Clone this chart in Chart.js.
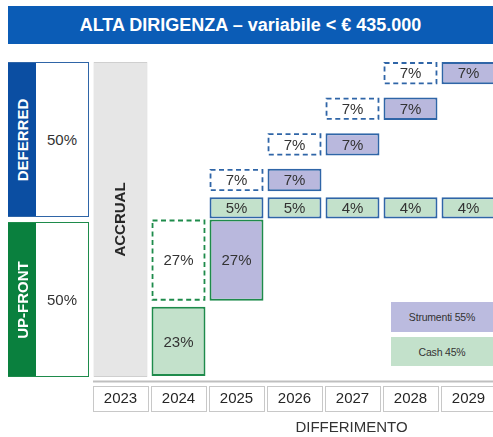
<!DOCTYPE html>
<html><head><meta charset="utf-8">
<script src="https://cdn.jsdelivr.net/npm/chart.js@4.4.1/dist/chart.umd.min.js"></script>
<style>
html,body{margin:0;padding:0;width:493px;height:437px;overflow:hidden;background:#fff;font-family:"Liberation Sans",Arial,sans-serif;}
#wrap{position:relative;width:493px;height:437px;overflow:hidden;}
#cv{position:absolute;left:0;top:0;}
.abs{position:absolute;box-sizing:border-box;}
#title{left:8px;top:6px;width:485px;height:38px;background:#0B5CB6;color:#fff;font-weight:bold;font-size:18px;display:flex;align-items:center;justify-content:center;}
.side{left:8px;width:81px;height:155px;border:1.5px solid;background:#fff;}
.strip{position:absolute;left:-1px;top:0;bottom:0;width:28px;}
.vtext{position:absolute;left:50%;top:50%;transform:translate(-50%,-50%) rotate(-90deg);white-space:nowrap;color:#fff;font-weight:bold;font-size:15px;}
.pct{position:absolute;left:27px;right:0;top:0;bottom:0;display:flex;align-items:center;justify-content:center;font-size:15px;color:#333;}
.leg{left:391px;width:102px;display:flex;align-items:center;justify-content:center;font-size:10.5px;letter-spacing:-0.2px;color:#333;}
#diff{left:210px;width:283px;top:418px;text-align:center;font-size:15px;color:#333;}
</style></head>
<body>
<div id="wrap">
<canvas id="cv"></canvas>
<div id="title" class="abs"></div>
<div id="deferredBox" class="abs side" style="top:62px;border-color:#2F65A7;">
  <div class="strip" style="background:#0B4EA2;"><div class="vtext" id="defTxt"></div></div>
  <div class="pct" id="defPct"></div>
</div>
<div id="upfrontBox" class="abs side" style="top:222px;border-color:#1E8B4B;">
  <div class="strip" style="background:#0A803E;"><div class="vtext" id="upTxt"></div></div>
  <div class="pct" id="upPct"></div>
</div>
<div id="legInstr" class="abs leg" style="top:302px;height:30px;background:#BBBBDF;"></div>
<div id="legCash" class="abs leg" style="top:337px;height:29px;background:#C3E1CB;"></div>
<div id="diff" class="abs"></div>
</div>
<script>
// ---- data ----
const titleText = 'ALTA DIRIGENZA \u2013 variabile < \u20ac 435.000';
const years = ['2023','2024','2025','2026','2027','2028','2029'];
const splitNames = ['DEFERRED','UP-FRONT'];
const splitPct = [50, 50];                 // deferred, up-front
const instrLabel = 'Strumenti', instrShare = 55;
const cashLabel = 'Cash', cashShare = 45;
const accrualLabel = 'ACCRUAL';
const axisTitle = 'DIFFERIMENTO';
const accrual = [100, null, null, null, null, null, null];
const upfrontCash = [null, 23, null, null, null, null, null];
const upfrontInstrAccrued = [null, 27, null, null, null, null, null];
const upfrontInstrPaid = [null, null, 27, null, null, null, null];
const deferredCash = [null, null, 5, 5, 4, 4, 4];
const deferredInstrAccrued = [null, null, 7, 7, 7, 7, null];
const deferredInstrPaid = [null, null, null, 7, 7, 7, 7];

// ---- text ----
document.getElementById('title').textContent = titleText;
document.getElementById('defTxt').textContent = splitNames[0];
document.getElementById('upTxt').textContent = splitNames[1];
document.getElementById('defPct').textContent = splitPct[0] + '%';
document.getElementById('upPct').textContent = splitPct[1] + '%';
document.getElementById('legInstr').textContent = instrLabel + ' ' + instrShare + '%';
document.getElementById('legCash').textContent = cashLabel + ' ' + cashShare + '%';
document.getElementById('diff').textContent = axisTitle;

// ---- layout of value ranges (y scale: 0..100 = up-front + deferred) ----
const upTop = splitPct[1];
const upCashVal = upfrontCash.find(v => v != null);
const mapUpCash = upfrontCash.map(v => v == null ? null : [0.3, v - 0.7]);
const mapUpInstr = arr => arr.map(v => v == null ? null : [upCashVal + 1.2, upCashVal + v]);
const mapDefCash = deferredCash.map(v => v == null ? null : [upTop + 0.3, upTop + 7.1]);
const rowRange = (k, v) => { const b = upTop + 9.0 + k * 11.3; return [b, b + v + 0.1]; };
const mapDefAcc = deferredInstrAccrued.map((v, i) => v == null ? null : rowRange(i - 2, v));
const mapDefPaid = deferredInstrPaid.map((v, i) => v == null ? null : rowRange(i - 3, v));
const mapAccrual = accrual.map(v => v == null ? null : [0, v]);

const BLUE = '#2F65A7', GREEN = '#1E8B4B', PURPLE = '#B9B8DD', LGREEN = '#C3E1CB';

function ds(data, pct, bg, border, extra) {
  return Object.assign({ data, pct, backgroundColor: bg, borderColor: border, borderWidth: 2,
    borderSkipped: false, grouped: false, barPercentage: 0.93, categoryPercentage: 1 }, extra || {});
}
const datasets = [
  ds(mapAccrual, null, '#E6E6E6', '#CFCFCF', { borderWidth: 1, vlabel: accrualLabel }),
  ds(mapUpCash, upfrontCash, LGREEN, GREEN),
  ds(mapUpInstr(upfrontInstrAccrued), upfrontInstrAccrued, 'rgba(255,255,255,0)', 'rgba(0,0,0,0)', { borderWidth: 0, dashed: GREEN }),
  ds(mapUpInstr(upfrontInstrPaid), upfrontInstrPaid, PURPLE, GREEN),
  ds(mapDefCash, deferredCash, LGREEN, BLUE),
  ds(mapDefAcc, deferredInstrAccrued, 'rgba(255,255,255,0)', 'rgba(0,0,0,0)', { borderWidth: 0, dashed: BLUE }),
  ds(mapDefPaid, deferredInstrPaid, PURPLE, BLUE)
];

const overlay = {
  id: 'overlay',
  beforeDraw(chart) {
    const ctx = chart.ctx, xs = chart.scales.x;
    const x0 = xs.getPixelForValue(0) - 27.5;
    ctx.save();
    ctx.strokeStyle = '#BFBFBF'; ctx.lineWidth = 2;
    ctx.beginPath(); ctx.moveTo(x0, 381.5); ctx.lineTo(chart.width, 381.5); ctx.stroke();
    ctx.lineWidth = 1; ctx.strokeStyle = '#C8C8C8';
    years.forEach((y, i) => {
      const cx = xs.getPixelForValue(i);
      ctx.strokeRect(Math.round(cx - 27.5) + 0.5, 386.5, 55, 25);
    });
    ctx.restore();
  },
  afterDatasetsDraw(chart) {
    const ctx = chart.ctx;
    ctx.save();
    chart.data.datasets.forEach((d, di) => {
      const meta = chart.getDatasetMeta(di);
      meta.data.forEach((el, i) => {
        if (d.data[i] == null) return;
        const p = el.getProps(['x', 'y', 'base', 'width'], true);
        const top = Math.min(p.y, p.base), bot = Math.max(p.y, p.base);
        const left = p.x - p.width / 2;
        if (d.dashed) {
          ctx.setLineDash([5, 3.5]);
          ctx.lineWidth = 1.8;
          ctx.strokeStyle = d.dashed;
          ctx.strokeRect(left + 1, top + 1, p.width - 2, bot - top - 2);
          ctx.setLineDash([]);
        }
        const cy = (top + bot) / 2;
        if (d.vlabel) {
          ctx.save();
          ctx.translate(p.x, cy);
          ctx.rotate(-Math.PI / 2);
          ctx.font = 'bold 15px "Liberation Sans", Arial, sans-serif';
          ctx.fillStyle = '#262626';
          ctx.textAlign = 'center'; ctx.textBaseline = 'middle';
          ctx.fillText(d.vlabel, 0, 0);
          ctx.restore();
        } else if (d.pct && d.pct[i] != null) {
          ctx.font = '15px "Liberation Sans", Arial, sans-serif';
          ctx.fillStyle = '#333';
          ctx.textAlign = 'center'; ctx.textBaseline = 'middle';
          ctx.fillText(d.pct[i] + '%', p.x, cy + 1);
        }
      });
    });
    ctx.restore();
  }
};

const cv = document.getElementById('cv');
cv.width = 520; cv.height = 437;
cv.style.width = '520px'; cv.style.height = '437px';
new Chart(cv, {
  type: 'bar',
  data: { labels: years, datasets },
  options: {
    responsive: false, animation: false, devicePixelRatio: 1,
    layout: { padding: { left: 91.5, right: 22.5, top: 62, bottom: 30 } },
    plugins: { legend: { display: false }, tooltip: { enabled: false } },
    scales: {
      x: {
        display: true,
        grid: { display: false, drawTicks: false },
        border: { display: false },
        ticks: { font: { size: 15, family: '"Liberation Sans", Arial, sans-serif' }, color: '#262626', padding: 13, maxRotation: 0 },
        afterFit(s) { s.height = 30; }
      },
      y: { display: false, min: 0, max: 100 }
    }
  },
  plugins: [overlay]
});
</script>
</body></html>
